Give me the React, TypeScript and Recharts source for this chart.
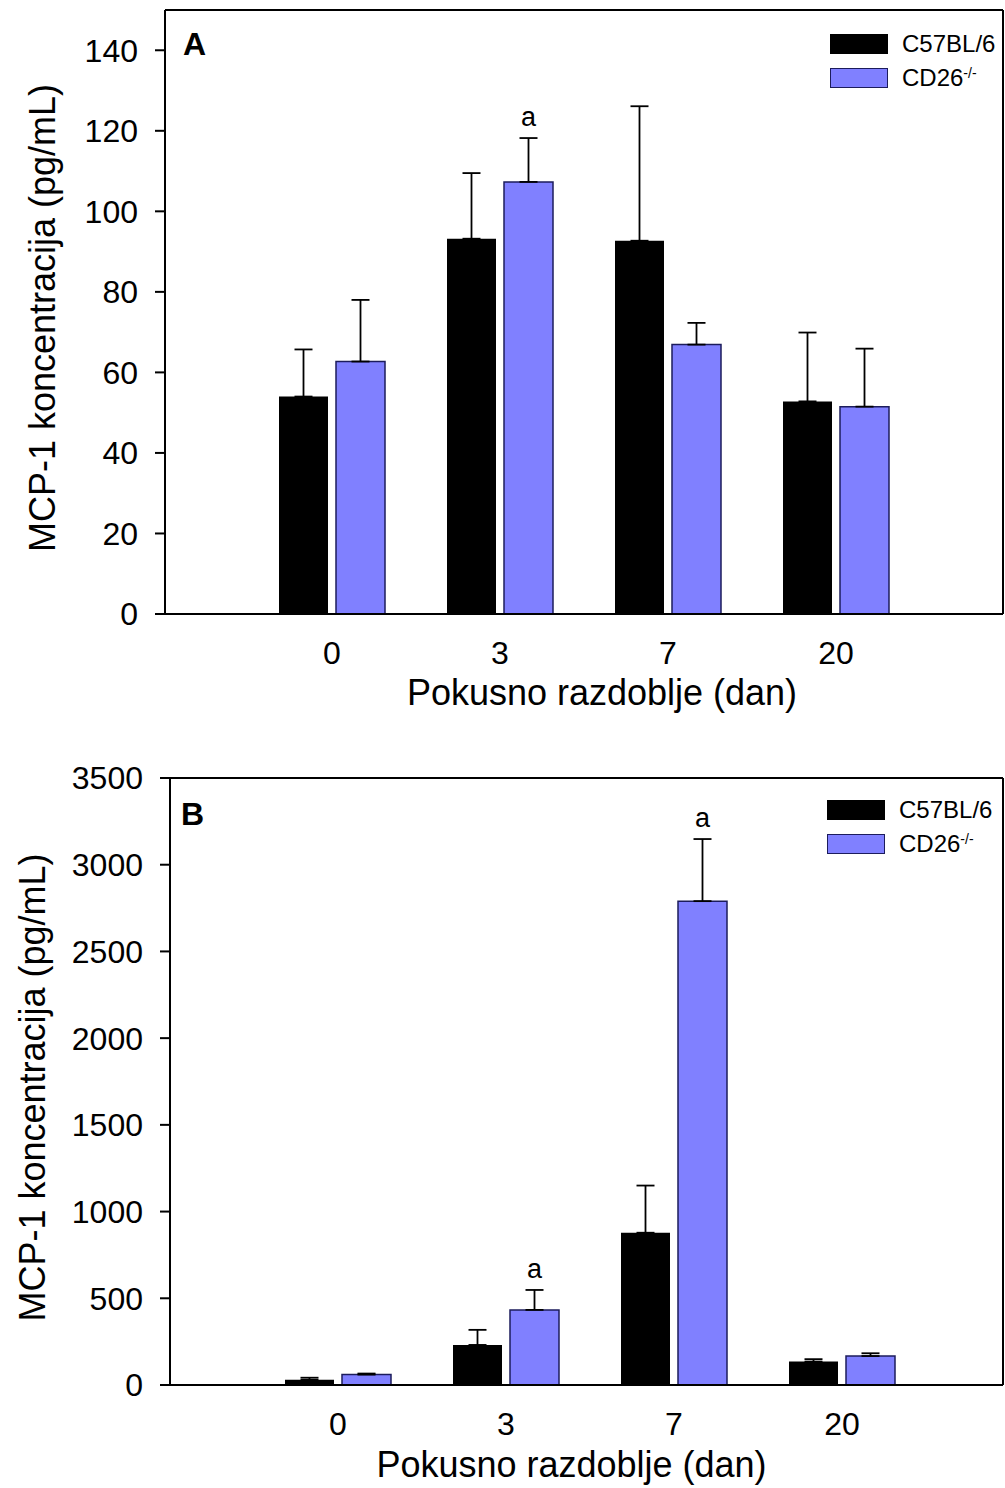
import React from 'react';
import { BarChart, Bar, XAxis, YAxis, ErrorBar, LabelList, Legend, Label } from 'recharts';

const FONT = '"Liberation Sans", Arial, sans-serif';
const BLUE = '#8080ff';
const BLUE_EDGE = '#1c1c5c';

const days = ['0', '3', '7', '20'];

// panel A
const wtA = [54, 93.2, 92.7, 52.8];
const wtErrA = [11.7, 16.3, 33.4, 17.1];
const koA = [62.7, 107.3, 66.9, 51.5];
const koErrA = [15.3, 10.9, 5.4, 14.4];
const sigA = ['', 'a', '', ''];
const ticksA = [0, 20, 40, 60, 80, 100, 120, 140];

// panel B
const wtB = [30, 231, 878, 135];
const wtErrB = [12, 87, 272, 14];
const koB = [60, 433, 2790, 167];
const koErrB = [6, 115, 358, 16];
const sigB = ['', 'a', 'a', ''];
const ticksB = [0, 500, 1000, 1500, 2000, 2500, 3000, 3500];

const buildRows = (wt: number[], wtErr: number[], ko: number[], koErr: number[], sig: string[]) =>
  days.map((day, i) => ({
    day,
    wt: wt[i],
    wtErr: [0, wtErr[i]],
    ko: ko[i],
    koErr: [0, koErr[i]],
    sig: sig[i],
  }));

const dataA = buildRows(wtA, wtErrA, koA, koErrA, sigA);
const dataB = buildRows(wtB, wtErrB, koB, koErrB, sigB);

// "a" marker sits above the top of the error bar
const sigLabel = (vals: number[], errs: number[]) => (props: any) => {
  const { x, y, width, height, value, index } = props;
  if (!value) return null;
  const pxPerUnit = height / vals[index];
  const top = y - errs[index] * pxPerUnit;
  return (
    <text x={x + width / 2} y={top - 12} textAnchor="middle" fontSize={27} fontFamily={FONT} fill="#000">
      {value}
    </text>
  );
};

const LegendBox = () => (
  <div style={{ fontFamily: FONT, fontSize: 24, color: '#000', lineHeight: '24px' }}>
    <div style={{ display: 'flex', alignItems: 'center', height: 34 }}>
      <span style={{ display: 'inline-block', width: 58, height: 20, background: '#000', marginRight: 14 }} />
      C57BL/6
    </div>
    <div style={{ display: 'flex', alignItems: 'center', height: 34 }}>
      <span
        style={{
          display: 'inline-block',
          width: 56,
          height: 18,
          background: BLUE,
          border: `1px solid ${BLUE_EDGE}`,
          marginRight: 14,
        }}
      />
      CD26<sup style={{ fontSize: 14, position: 'relative', top: -5 }}>-/-</sup>
    </div>
  </div>
);

const axisLine = { stroke: '#000', strokeWidth: 2 };
const tickStyle = { fontSize: 32, fill: '#000', fontFamily: FONT };
const titleStyle = { fontSize: 36, fill: '#000', fontFamily: FONT };

type PanelProps = {
  data: any[];
  ko: number[];
  koErr: number[];
  ticks: number[];
  max: number;
  letter: string;
  height: number;
  margin: { top: number; right: number; left: number; bottom: number };
  yWidth: number;
  xHeight: number;
  padding: { left: number; right: number };
  yTitleDx: number;
  xTitleDx: number;
  xTitleDy: number;
  legendTop: number;
  legendLeft: number;
  letterX: number;
  letterY: number;
};

function Panel(p: PanelProps) {
  return (
    <BarChart width={1005} height={p.height} data={p.data} margin={p.margin} barSize={49} barGap={8}>
      <XAxis
        dataKey="day"
        padding={p.padding}
        axisLine={axisLine}
        tickLine={false}
        tickSize={0}
        tickMargin={27}
        tick={tickStyle}
        height={p.xHeight}
      >
        <Label value="Pokusno razdoblje (dan)" position="center" dx={p.xTitleDx} dy={p.xTitleDy} style={titleStyle} />
      </XAxis>
      {/* frame: top and right edges */}
      <XAxis xAxisId="top" orientation="top" dataKey="day" height={1} tick={false} tickLine={false} axisLine={axisLine} />
      <YAxis
        domain={[0, p.max]}
        ticks={p.ticks}
        width={p.yWidth}
        axisLine={axisLine}
        tickLine={{ stroke: '#000', strokeWidth: 2 }}
        tickSize={10}
        tickMargin={17}
        tick={tickStyle}
        interval={0}
      >
        <Label
          value="MCP-1 koncentracija (pg/mL)"
          position="center"
          angle={-90}
          dx={p.yTitleDx}
          dy={6}
          style={{ ...titleStyle, textAnchor: 'middle' }}
        />
      </YAxis>
      <YAxis yAxisId="right" orientation="right" width={1} domain={[0, 1]} tick={false} tickLine={false} axisLine={axisLine} />
      <Legend
        layout="vertical"
        align="center"
        verticalAlign="middle"
        content={<LegendBox />}
        wrapperStyle={{ top: p.legendTop, left: p.legendLeft, width: 180 }}
      />
      <Bar dataKey="wt" fill="#000" isAnimationActive={false}>
        <ErrorBar dataKey="wtErr" width={9} stroke="#000" strokeWidth={1.8} direction="y" />
      </Bar>
      <Bar dataKey="ko" fill={BLUE} stroke={BLUE_EDGE} strokeWidth={1.5} isAnimationActive={false}>
        <ErrorBar dataKey="koErr" width={9} stroke="#000" strokeWidth={1.8} direction="y" />
        <LabelList dataKey="sig" content={sigLabel(p.ko, p.koErr)} />
      </Bar>
      <text x={p.letterX} y={p.letterY} fontSize={32} fontWeight="bold" fontFamily={FONT} fill="#000">
        {p.letter}
      </text>
    </BarChart>
  );
}

export default function App() {
  return (
    <div style={{ position: 'absolute', top: 0, left: 0, width: 1005, height: 1488, background: '#fff' }}>
      <Panel
        data={dataA}
        ko={koA}
        koErr={koErrA}
        ticks={ticksA}
        max={150}
        letter="A"
        height={730}
        margin={{ top: 9, right: 1, left: 0, bottom: 0 }}
        yWidth={165}
        xHeight={116}
        padding={{ left: 83, right: 83 }}
        yTitleDx={-40}
        xTitleDx={18}
        xTitleDy={20}
        legendTop={27}
        legendLeft={830}
        letterX={183}
        letterY={55}
      />
      <Panel
        data={dataB}
        ko={koB}
        koErr={koErrB}
        ticks={ticksB}
        max={3500}
        letter="B"
        height={758}
        margin={{ top: 47, right: 1, left: 0, bottom: 0 }}
        yWidth={170}
        xHeight={103}
        padding={{ left: 84, right: 77 }}
        yTitleDx={-53}
        xTitleDx={-15}
        xTitleDy={28}
        legendTop={63}
        legendLeft={827}
        letterX={181}
        letterY={95}
      />
    </div>
  );
}
